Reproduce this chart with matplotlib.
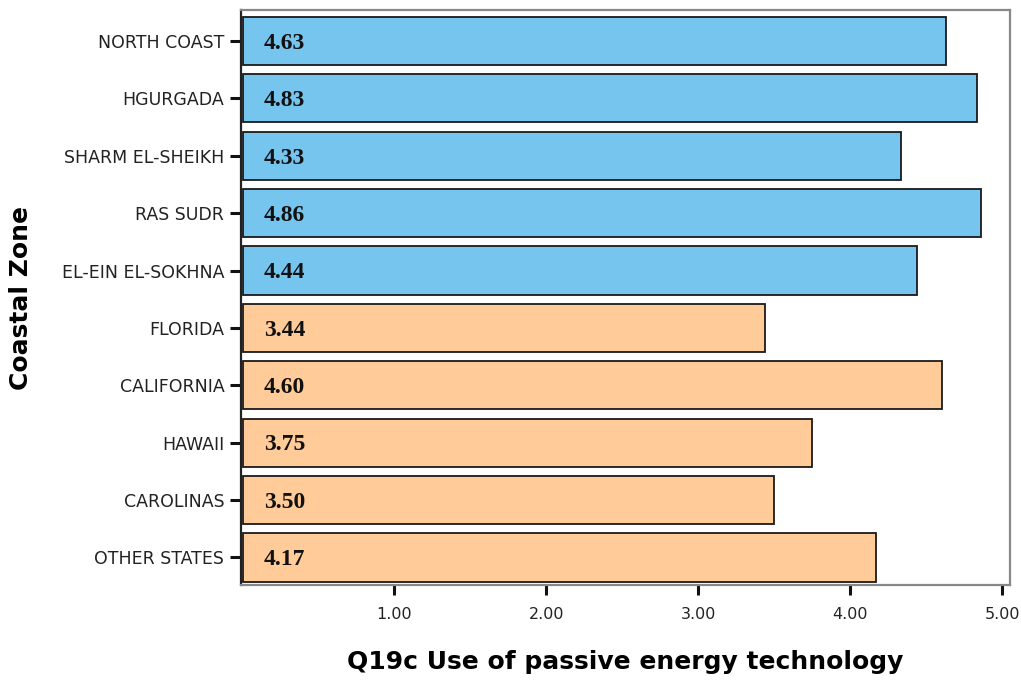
import matplotlib
matplotlib.use("Agg")
import matplotlib.pyplot as plt

categories = ["NORTH COAST", "HGURGADA", "SHARM EL-SHEIKH", "RAS SUDR", "EL-EIN EL-SOKHNA",
              "FLORIDA", "CALIFORNIA", "HAWAII", "CAROLINAS", "OTHER STATES"]
values = [4.63, 4.83, 4.33, 4.86, 4.44, 3.44, 4.60, 3.75, 3.50, 4.17]
groups = ["egypt"] * 5 + ["usa"] * 5
x_ticks = [1.0, 2.0, 3.0, 4.0, 5.0]
x_tick_labels = ["1.00", "2.00", "3.00", "4.00", "5.00"]

colors = {"egypt": "#76C5EF", "usa": "#FFCB98"}

fig = plt.figure(figsize=(10.21, 6.84), dpi=100)
ax = fig.add_axes([241 / 1021, 1 - 585 / 684, (1010 - 241) / 1021, (585 - 10) / 684])

ypos = list(range(len(categories)))
ax.barh(ypos, values, height=0.84, color=[colors[g] for g in groups],
        edgecolor="#1a1a1a", linewidth=1.3, zorder=3)

for y, v in zip(ypos, values):
    ax.text(0.14, y + 0.04, f"{v:.2f}", ha="left", va="center", fontsize=17,
            fontweight="bold", family="Liberation Serif", color="#111111", zorder=4)

ax.set_xlim(-0.01, 5.05)
ax.set_ylim(9.48, -0.54)
ax.set_yticks(ypos)
ax.set_yticklabels(categories, fontsize=12.5, family="DejaVu Sans", color="#222222")
ax.set_xticks(x_ticks)
ax.set_xticklabels(x_tick_labels, fontsize=11.5, family="DejaVu Sans", color="#222222")
ax.tick_params(axis="y", length=8, width=2.2, color="#111111", pad=4)
ax.tick_params(axis="x", length=7, width=2.2, color="#111111", pad=9)

for side in ["top", "right"]:
    ax.spines[side].set_color("#888888")
    ax.spines[side].set_linewidth(1.6)
ax.spines["left"].set_color("#222222")
ax.spines["left"].set_linewidth(1.6)
ax.spines["bottom"].set_color("#888888")
ax.spines["bottom"].set_linewidth(1.6)

ax.set_xlabel("Q19c Use of passive energy technology", fontsize=18, fontweight="bold",
              family="DejaVu Sans")
ax.xaxis.set_label_coords(0.5, -0.113)
ax.set_ylabel("Coastal Zone", fontsize=18, fontweight="bold", family="DejaVu Sans")
ax.yaxis.set_label_coords(-0.2705, 0.5)

fig.savefig("out.png", dpi=100)
